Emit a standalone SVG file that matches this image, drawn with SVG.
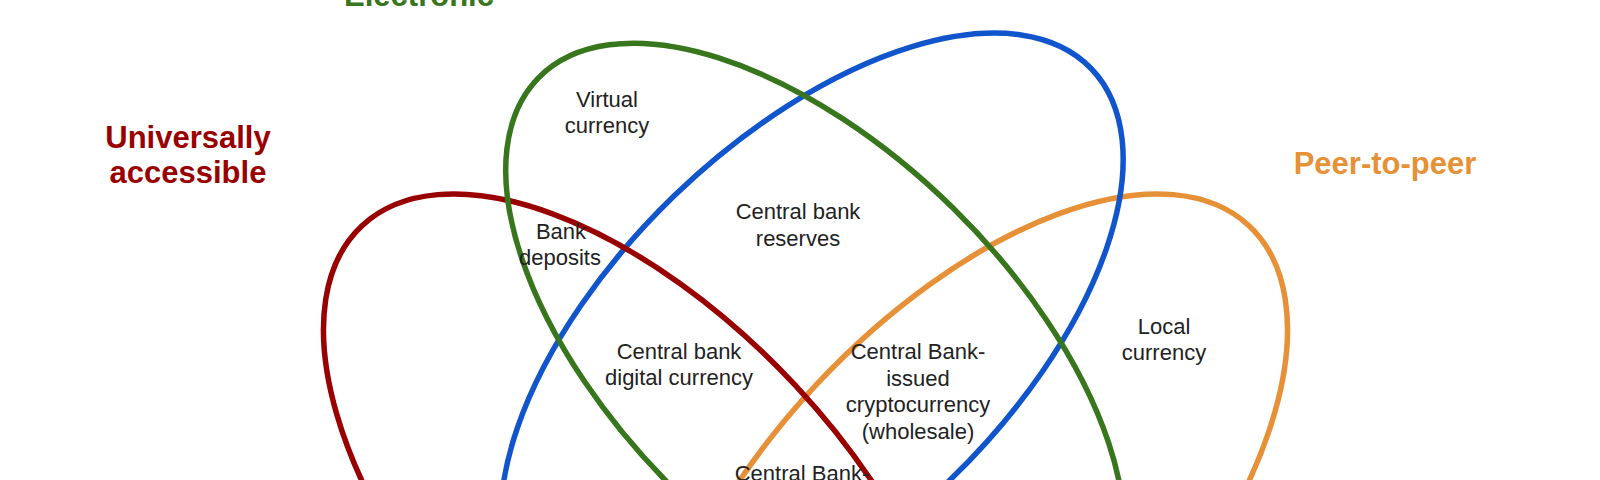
<svg xmlns="http://www.w3.org/2000/svg" width="1600" height="480" viewBox="0 0 1600 480">
<style>
.set{fill:none;stroke-width:5.5}
.title{font-family:"Liberation Sans",Arial,sans-serif;font-weight:bold;font-size:31px;text-anchor:middle}
.lbl{font-family:"Liberation Sans",Arial,sans-serif;font-size:22px;fill:#222222;text-anchor:middle}
</style>
<rect width="1600" height="480" fill="#ffffff"/>
<g id="set-peer-to-peer">
<ellipse class="set" stroke="#e69138" cx="968" cy="527" rx="412" ry="208" transform="rotate(-47 968 527)"/>
<text class="title" fill="#e69138" x="1385" y="174">Peer-to-peer</text>
</g>
<g id="set-central-bank-issued">
<ellipse class="set" stroke="#1155cc" cx="812" cy="338" rx="388" ry="198" transform="rotate(-44 812 338)"/>
</g>
<g id="set-universally-accessible">
<ellipse class="set" stroke="#990000" cx="643" cy="527" rx="412" ry="208" transform="rotate(47 643 527)"/>
<text class="title" fill="#990000" x="188" y="148">Universally</text>
<text class="title" fill="#990000" x="188" y="183">accessible</text>
</g>
<g id="set-electronic">
<ellipse class="set" stroke="#38761d" cx="815" cy="350" rx="388" ry="198" transform="rotate(44.6 815 350)"/>
<text class="title" fill="#38761d" x="419" y="6">Electronic</text>
</g>
<g id="virtual-currency">
<text class="lbl" x="607" y="107">Virtual</text>
<text class="lbl" x="607" y="133">currency</text>
</g>
<g id="central-bank-reserves">
<text class="lbl" x="798" y="219">Central bank</text>
<text class="lbl" x="798" y="246">reserves</text>
</g>
<g id="bank-deposits">
<text class="lbl" x="561" y="239">Bank</text>
<text class="lbl" x="560" y="265">deposits</text>
</g>
<g id="cbdc">
<text class="lbl" x="679" y="359">Central bank</text>
<text class="lbl" x="679" y="385">digital currency</text>
</g>
<g id="cb-crypto-wholesale">
<text class="lbl" x="918" y="359">Central Bank-</text>
<text class="lbl" x="918" y="385.5">issued</text>
<text class="lbl" x="918" y="412">cryptocurrency</text>
<text class="lbl" x="918" y="438.5">(wholesale)</text>
</g>
<g id="cb-crypto-retail">
<text class="lbl" x="802" y="481">Central Bank-</text>
</g>
<g id="local-currency">
<text class="lbl" x="1164" y="334">Local</text>
<text class="lbl" x="1164" y="360">currency</text>
</g>
</svg>
